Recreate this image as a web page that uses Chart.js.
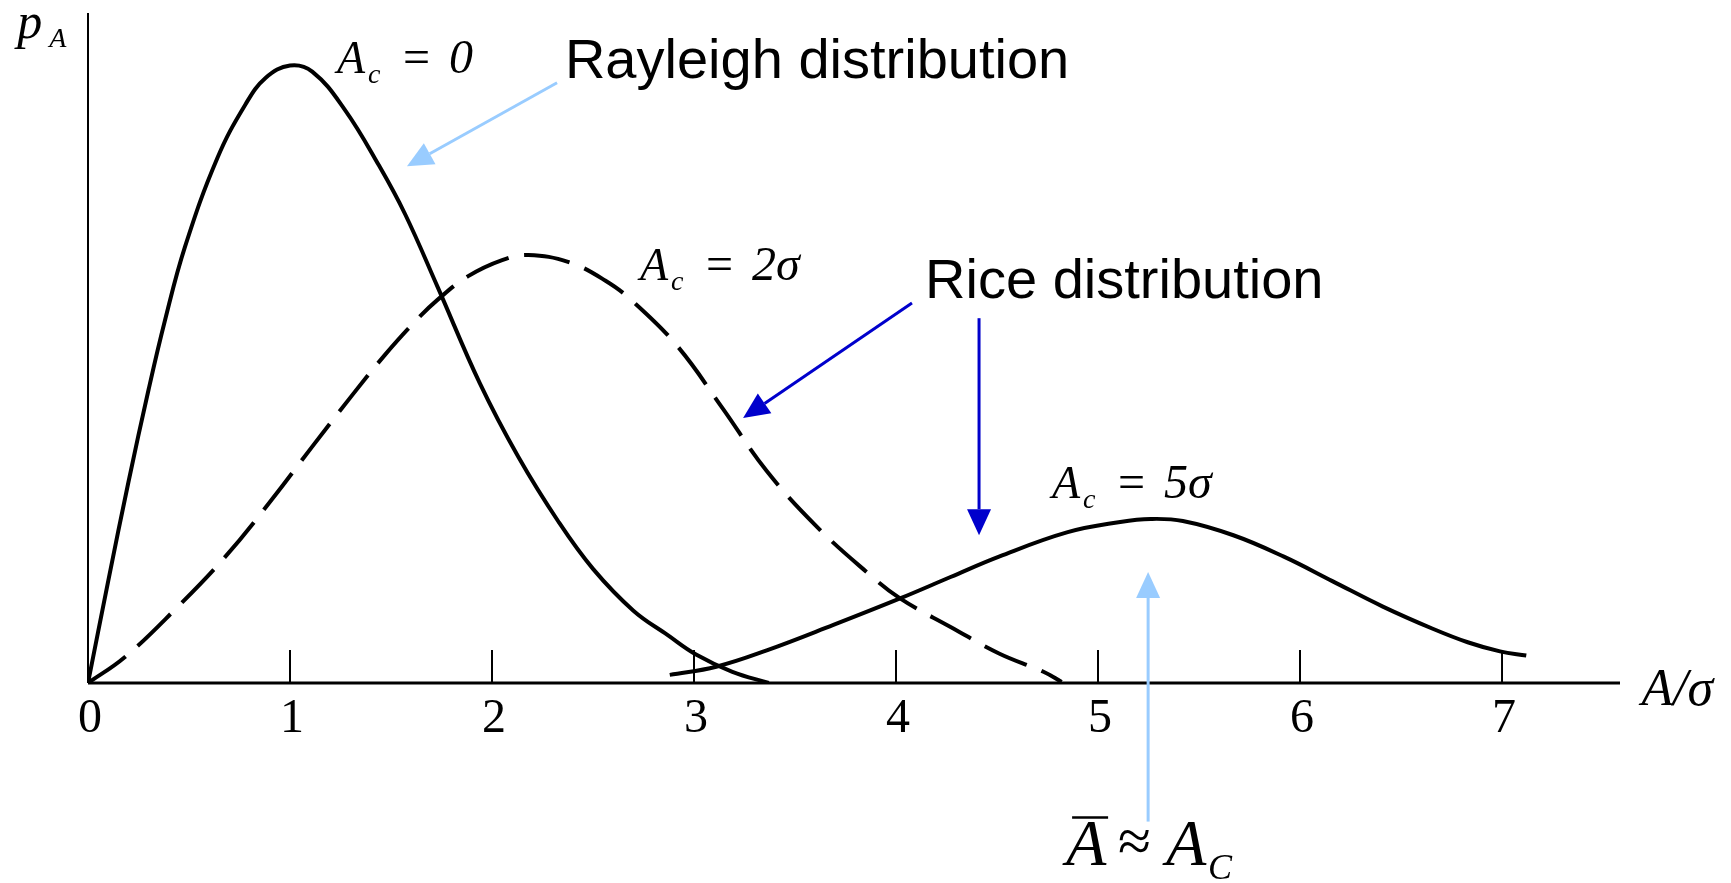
<!DOCTYPE html>
<html>
<head>
<meta charset="utf-8">
<title>Rayleigh and Rice distributions</title>
<script src="https://cdn.jsdelivr.net/npm/chart.js@4.4.0/dist/chart.umd.min.js"></script>
<style>
  body { margin: 0; background: #fff; }
  #wrap { width: 1731px; height: 883px; }
</style>
</head>
<body>
<div id="wrap"><canvas id="pdf-chart"></canvas></div>
<script>
// p_A, x is A/sigma
var rayleighX = [0, 0.1, 0.2, 0.3, 0.38, 0.48, 0.64, 0.78, 0.88, 1.0, 1.11, 1.27, 1.44, 1.57, 1.73, 1.94, 2.13, 2.33, 2.50, 2.70, 2.87, 3.01, 3.19, 3.37];
var rayleighY = [0, 0.10, 0.197, 0.288, 0.355, 0.428, 0.515, 0.568, 0.594, 0.606, 0.600, 0.563, 0.508, 0.460, 0.389, 0.294, 0.222, 0.158, 0.112, 0.071, 0.047, 0.028, 0.011, 0];

var rice2X = [0, 0.18, 0.43, 0.68, 0.91, 1.11, 1.31, 1.47, 1.63, 1.73, 1.88, 2.05, 2.18, 2.38, 2.56, 2.70, 2.92, 3.14, 3.36, 3.61, 3.86, 4.02, 4.27, 4.51, 4.73, 4.82];
var rice2Y = [0, 0.025, 0.072, 0.124, 0.180, 0.232, 0.283, 0.322, 0.357, 0.376, 0.399, 0.415, 0.420, 0.413, 0.395, 0.374, 0.330, 0.270, 0.208, 0.153, 0.108, 0.083, 0.055, 0.029, 0.011, 0.001];

var rice5X = [2.88, 3.11, 3.36, 3.69, 4.02, 4.27, 4.51, 4.85, 5.11, 5.26, 5.42, 5.67, 5.92, 6.16, 6.41, 6.66, 6.83, 6.99, 7.12];
var rice5Y = [0.008, 0.016, 0.032, 0.057, 0.083, 0.104, 0.124, 0.148, 0.158, 0.161, 0.159, 0.145, 0.124, 0.100, 0.075, 0.053, 0.040, 0.031, 0.027];

var tickValues = [0, 1, 2, 3, 4, 5, 6, 7];
var tickLabels = ['0', '1', '2', '3', '4', '5', '6', '7'];

var serif = '"Liberation Serif", "Times New Roman", serif';
var sans = '"Liberation Sans", Arial, sans-serif';

function toPoints(xs, ys) {
  var pts = [];
  for (let i = 0; i < xs.length; i++) {
    pts.push({ x: xs[i], y: ys[i] });
  }
  return pts;
}

// arrows, in chart units (A/sigma, p_A)
var arrows = [
  { from: [2.322, 0.589], to: [1.579, 0.507], color: '#99ccff' },
  { from: [4.079, 0.373], to: [3.243, 0.260], color: '#0000cc' },
  { from: [4.411, 0.358], to: [4.411, 0.145], color: '#0000cc' },
  { from: [5.248, -0.136], to: [5.248, 0.109], color: '#99ccff' }
];

// A_c = ... labels next to the curves
var curveLabels = [
  { x: 1.233, y: 0.599, value: '0' },
  { x: 2.733, y: 0.395, value: '2\u03c3' },
  { x: 4.772, y: 0.182, value: '5\u03c3' }
];

function drawArrow(ctx, x1, y1, x2, y2, color) {
  var ang = Math.atan2(y2 - y1, x2 - x1);
  var len = 26, half = 12;
  var bx = x2 - len * Math.cos(ang);
  var by = y2 - len * Math.sin(ang);
  ctx.strokeStyle = color;
  ctx.fillStyle = color;
  ctx.lineWidth = 3;
  ctx.beginPath();
  ctx.moveTo(x1, y1);
  ctx.lineTo(bx, by);
  ctx.stroke();
  ctx.beginPath();
  ctx.moveTo(x2, y2);
  ctx.lineTo(bx + half * Math.sin(ang), by - half * Math.cos(ang));
  ctx.lineTo(bx - half * Math.sin(ang), by + half * Math.cos(ang));
  ctx.closePath();
  ctx.fill();
}

var axesPlugin = {
  id: 'axesAndNotes',
  afterDatasetsDraw: function(chart) {
    var ctx = chart.ctx;
    var xs = chart.scales.x, ys = chart.scales.y;
    var area = chart.chartArea;
    var x0 = xs.getPixelForValue(0), y0 = ys.getPixelForValue(0);
    ctx.save();

    // axes
    ctx.strokeStyle = '#000';
    ctx.lineWidth = 2;
    ctx.beginPath();
    ctx.moveTo(x0, area.top);
    ctx.lineTo(x0, y0);
    ctx.stroke();
    ctx.lineWidth = 3;
    ctx.beginPath();
    ctx.moveTo(x0, y0);
    ctx.lineTo(area.right, y0);
    ctx.stroke();

    // ticks point up into the plot
    ctx.lineWidth = 2;
    ctx.fillStyle = '#000';
    ctx.font = '48px ' + serif;
    ctx.textAlign = 'center';
    ctx.textBaseline = 'alphabetic';
    for (let i = 0; i < tickValues.length; i++) {
      var tx = xs.getPixelForValue(tickValues[i]);
      if (tickValues[i] > 0) {
        ctx.beginPath();
        ctx.moveTo(tx, y0);
        ctx.lineTo(tx, y0 - 33);
        ctx.stroke();
      }
      ctx.fillText(tickLabels[i], tx + 2, y0 + 49);
    }

    ctx.textAlign = 'left';
    // axis names
    var px = xs.getPixelForValue(-0.35), py = ys.getPixelForValue(0.633);
    ctx.font = 'italic 50px ' + serif;
    ctx.fillText('p', px, py);
    ctx.font = 'italic 28px ' + serif;
    ctx.fillText('A', px + 32, py + 9);
    ctx.font = 'italic 52px ' + serif;
    ctx.fillText('A/\u03c3', xs.getPixelForValue(7.69), ys.getPixelForValue(-0.022));

    // A_c labels
    curveLabels.forEach(function(l) {
      var lx = xs.getPixelForValue(l.x), ly = ys.getPixelForValue(l.y);
      ctx.font = 'italic 46px ' + serif;
      ctx.fillText('A', lx, ly);
      ctx.font = 'italic 28px ' + serif;
      ctx.fillText('c', lx + 31, ly + 10);
      ctx.font = '48px ' + serif;
      ctx.fillText('=', lx + 66, ly);
      ctx.font = 'italic 48px ' + serif;
      ctx.fillText(l.value, lx + 112, ly);
    });

    // distribution names
    ctx.font = '56px ' + sans;
    ctx.fillText('Rayleigh distribution', xs.getPixelForValue(2.361), ys.getPixelForValue(0.594));
    ctx.fillText('Rice distribution', xs.getPixelForValue(4.144), ys.getPixelForValue(0.378));

    arrows.forEach(function(a) {
      drawArrow(ctx, xs.getPixelForValue(a.from[0]), ys.getPixelForValue(a.from[1]),
        xs.getPixelForValue(a.to[0]), ys.getPixelForValue(a.to[1]), a.color);
    });

    // mean amplitude note under the axis
    var mx = xs.getPixelForValue(4.842), my = ys.getPixelForValue(-0.179);
    ctx.fillStyle = '#000';
    ctx.strokeStyle = '#000';
    ctx.font = 'italic 66px ' + serif;
    ctx.fillText('A', mx, my);
    ctx.lineWidth = 2.5;
    ctx.beginPath();
    ctx.moveTo(mx + 6, my - 48);
    ctx.lineTo(mx + 42, my - 48);
    ctx.stroke();
    ctx.font = '60px ' + serif;
    ctx.fillText('\u2248', mx + 52, my - 4);
    ctx.font = 'italic 66px ' + serif;
    ctx.fillText('A', mx + 100, my);
    ctx.font = 'italic 36px ' + serif;
    ctx.fillText('C', mx + 142, my + 14);

    ctx.restore();
  }
};

var pdfChart = new Chart(document.getElementById('pdf-chart').getContext('2d'), {
  type: 'line',
  data: {
    datasets: [{
      label: 'Ac = 0',
      data: toPoints(rayleighX, rayleighY),
      borderColor: '#000',
      borderWidth: 4
    }, {
      label: 'Ac = 2 sigma',
      data: toPoints(rice2X, rice2Y),
      borderColor: '#000',
      borderWidth: 4,
      borderDash: [46, 16]
    }, {
      label: 'Ac = 5 sigma',
      data: toPoints(rice5X, rice5Y),
      borderColor: '#000',
      borderWidth: 4
    }]
  },
  options: {
    responsive: true,
    maintainAspectRatio: false,
    animation: false,
    layout: { padding: { left: 88, right: 111, top: 13, bottom: 200 } },
    elements: {
      point: { radius: 0 },
      line: { tension: 0.4, fill: false }
    },
    scales: {
      x: { type: 'linear', min: 0, max: 7.584, display: false },
      y: { type: 'linear', min: 0, max: 0.6575, display: false }
    },
    plugins: {
      legend: { display: false },
      tooltip: { enabled: false }
    }
  },
  plugins: [axesPlugin]
});
</script>
</body>
</html>
